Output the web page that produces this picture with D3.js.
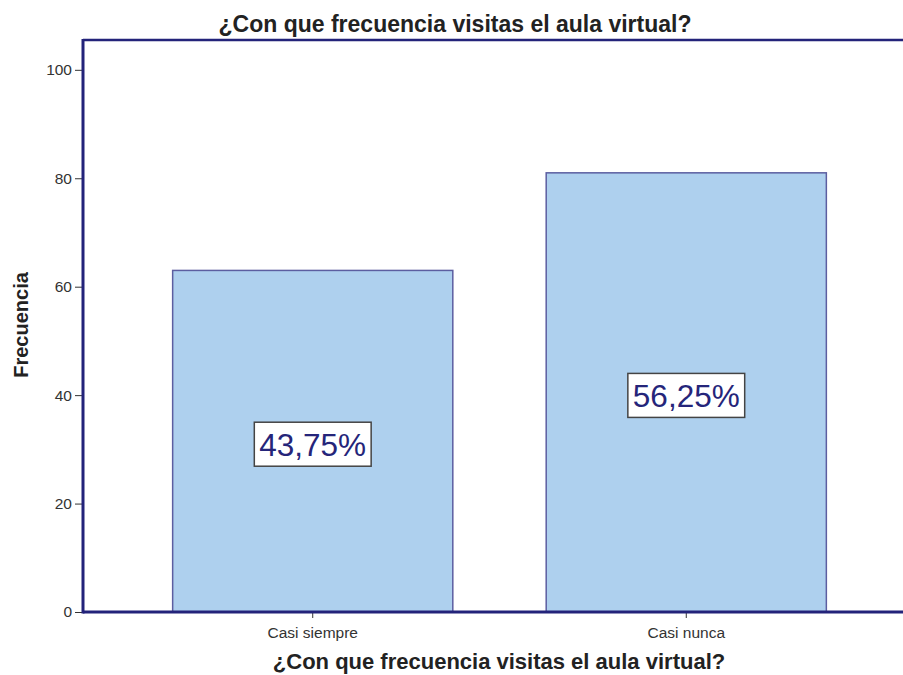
<!DOCTYPE html>
<html>
<head>
<meta charset="utf-8">
<script src="https://cdn.jsdelivr.net/npm/d3@7"></script>
<style>
    body { margin: 0; background: #fff; }
    text { font-family: "Liberation Sans", Arial, sans-serif; }
</style>
</head>
<body>
<div id="canvas"></div>
<script>
// data
let categories = ["Casi siempre", "Casi nunca"]
let counts = [63, 81]
let yTicks = [0, 20, 40, 60, 80, 100]
let titleText = "¿Con que frecuencia visitas el aula virtual?"

let width = 903
let height = 675
let plotLeft = 83, plotTop = 40, plotBottom = 612, plotRight = 916

let svg = d3.select("#canvas").append("svg")
    .attr("width", width)
    .attr("height", height)

let total = d3.sum(counts)

let x = d3.scaleBand()
    .domain(categories)
    .range([plotLeft, plotRight])
    .paddingInner(0.25)
    .paddingOuter(0.24)

let y = d3.scaleLinear()
    .domain([0, 105.5])
    .range([plotBottom, plotTop])

// bars
let bars = svg.append("g").selectAll("g")
    .data(categories)
    .enter().append("g")

bars.append("rect")
    .attr("x", d => x(d))
    .attr("width", x.bandwidth())
    .attr("y", (d, i) => y(counts[i]))
    .attr("height", (d, i) => plotBottom - y(counts[i]))
    .attr("fill", "#aed0ee")
    .attr("stroke", "#5c5ea0")
    .attr("stroke-width", 1.5)

// percentage labels in the middle of each bar
bars.each(function(d, i) {
    let g = d3.select(this)
    let cx = x(d) + x.bandwidth() / 2
    let cy = y(counts[i] / 2) + 3
    let label = (counts[i] / total * 100).toFixed(2).replace(".", ",") + "%"
    let t = g.append("text")
        .attr("x", cx)
        .attr("y", cy)
        .attr("dy", "0.36em")
        .attr("text-anchor", "middle")
        .attr("font-size", 31.5)
        .attr("fill", "#25257a")
        .text(label)
    let bb = t.node().getBBox()
    g.insert("rect", "text")
        .attr("x", bb.x - 5)
        .attr("y", cy - 22)
        .attr("width", bb.width + 10)
        .attr("height", 44)
        .attr("fill", "#fff")
        .attr("stroke", "#444")
        .attr("stroke-width", 1.5)
})

// y axis
let yAxis = svg.append("g")
    .attr("transform", "translate(" + plotLeft + ",0)")
    .call(d3.axisLeft(y).tickValues(yTicks).tickSize(8).tickPadding(3))
yAxis.select(".domain").remove()
yAxis.selectAll("line").attr("stroke", "#333")
yAxis.selectAll("text")
    .attr("font-size", 15.5)
    .attr("fill", "#333")
    .style("font-family", "'Liberation Sans', Arial, sans-serif")

// x axis
let xAxis = svg.append("g")
    .attr("transform", "translate(0," + plotBottom + ")")
    .call(d3.axisBottom(x).tickSize(6).tickPadding(9))
xAxis.select(".domain").remove()
xAxis.selectAll("line").attr("stroke", "#333")
xAxis.selectAll("text")
    .attr("font-size", 15.5)
    .attr("fill", "#333")
    .style("font-family", "'Liberation Sans', Arial, sans-serif")

// frame lines
svg.append("line")
    .attr("x1", plotLeft).attr("x2", plotRight)
    .attr("y1", plotTop).attr("y2", plotTop)
    .attr("stroke", "#23237a").attr("stroke-width", 2.5)
svg.append("line")
    .attr("x1", plotLeft).attr("x2", plotLeft)
    .attr("y1", plotTop - 1).attr("y2", plotBottom + 1.5)
    .attr("stroke", "#23237a").attr("stroke-width", 3)
svg.append("line")
    .attr("x1", plotLeft).attr("x2", plotRight)
    .attr("y1", plotBottom).attr("y2", plotBottom)
    .attr("stroke", "#23237a").attr("stroke-width", 3)

// titles
svg.append("text")
    .attr("x", 455)
    .attr("y", 32)
    .attr("text-anchor", "middle")
    .attr("font-size", 23)
    .attr("font-weight", "bold")
    .attr("fill", "#222")
    .text(titleText)

svg.append("text")
    .attr("x", 499)
    .attr("y", 669)
    .attr("text-anchor", "middle")
    .attr("font-size", 22)
    .attr("font-weight", "bold")
    .attr("fill", "#222")
    .text(titleText)

svg.append("text")
    .attr("transform", "translate(28,325) rotate(-90)")
    .attr("text-anchor", "middle")
    .attr("font-size", 20)
    .attr("font-weight", "bold")
    .attr("fill", "#222")
    .text("Frecuencia")
</script>
</body>
</html>
